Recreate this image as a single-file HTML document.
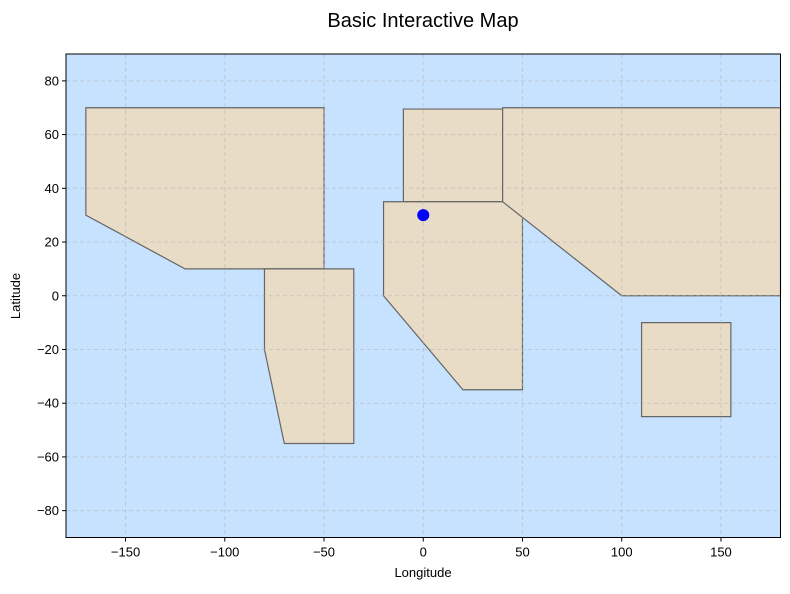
<!DOCTYPE html>
<html><head><meta charset="utf-8"><style>
body{margin:0;background:#fff;}
svg text{font-family:"Liberation Sans","Noto Sans CJK JP",sans-serif;fill:#000;}
</style></head><body>
<svg id="chart" width="790" height="589" xmlns="http://www.w3.org/2000/svg">
<text x="423" y="27" text-anchor="middle" font-size="20">Basic Interactive Map</text>
<rect x="66" y="54" width="714.5" height="483.5" fill="#c6e2ff"/>
<g id="land"></g>
<g id="grid"></g>
<g id="points"></g>
<rect x="66" y="54" width="714.5" height="483.5" fill="none" stroke="#000" stroke-width="1"/>
<g id="ticks"></g>
<text x="423" y="577" text-anchor="middle" font-size="13">Longitude</text>
<text transform="translate(20,296) rotate(-90)" text-anchor="middle" font-size="13">Latitude</text>
</svg>
<script>
const regionNames=['north-america','south-america','europe','africa','asia','australia'];
const regionLons=[[-170,-50,-50,-120,-170],[-80,-35,-35,-70,-80],[-10,40,40,-10],[-20,50,50,20,-20],[40,180,180,100,40],[110,155,155,110]];
const regionLats=[[70,70,10,10,30],[10,10,-55,-55,-20],[69.5,69.5,35,35],[35,35,-35,-35,0],[70,70,0,0,35],[-10,-10,-45,-45]];
const pointLons=[0];
const pointLats=[30];
const xTicks=[-150,-100,-50,0,50,100,150];
const yTicks=[-80,-60,-40,-20,0,20,40,60,80];
const ns='http://www.w3.org/2000/svg';
const X0=66,X1=780.5,Y0=54,Y1=537.5;
const xs=v=>X0+(v+180)/360*(X1-X0);
const ys=v=>Y1-(v+90)/180*(Y1-Y0);
function mk(t,a,p){const e=document.createElementNS(ns,t);for(const k in a)e.setAttribute(k,a[k]);p.appendChild(e);return e;}
const land=document.getElementById('land');
regionNames.forEach((n,i)=>{
 const pts=regionLons[i].map((lo,j)=>xs(lo)+','+ys(regionLats[i][j])).join(' ');
 const p=mk('polygon',{points:pts,fill:'#e8dcc6',stroke:'#666',"stroke-width":1.2},land);
 
 
});
const grid=document.getElementById('grid'),ticks=document.getElementById('ticks');
xTicks.forEach(v=>{
 const l=mk('line',{x1:xs(v),x2:xs(v),y1:Y0,y2:Y1,stroke:'#b0b0b0',"stroke-opacity":0.5,"stroke-dasharray":'4,3'},grid);
 
 
 const t=mk('line',{x1:xs(v),x2:xs(v),y1:Y1,y2:Y1+4,stroke:'#000'},ticks);
 
 
 const tx=mk('text',{x:xs(v),y:Y1+19,"text-anchor":'middle',"font-size":13},ticks);
 tx.textContent=(v<0?'\u2212'+(-v):v);
 
 
});
yTicks.forEach(v=>{
 const l=mk('line',{x1:X0,x2:X1,y1:ys(v),y2:ys(v),stroke:'#b0b0b0',"stroke-opacity":0.5,"stroke-dasharray":'4,3'},grid);
 
 
 const t=mk('line',{x1:X0-4,x2:X0,y1:ys(v),y2:ys(v),stroke:'#000'},ticks);
 
 
 const tx=mk('text',{x:X0-7,y:ys(v)+4.5,"text-anchor":'end',"font-size":13},ticks);
 tx.textContent=(v<0?'\u2212'+(-v):v);
 
 
});
const pg=document.getElementById('points');
pointLons.forEach((lo,i)=>{
 const c=mk('circle',{cx:xs(lo),cy:ys(pointLats[i]),r:6,fill:'#0000ff'},pg);
 
 
});
</script>
</body></html>
